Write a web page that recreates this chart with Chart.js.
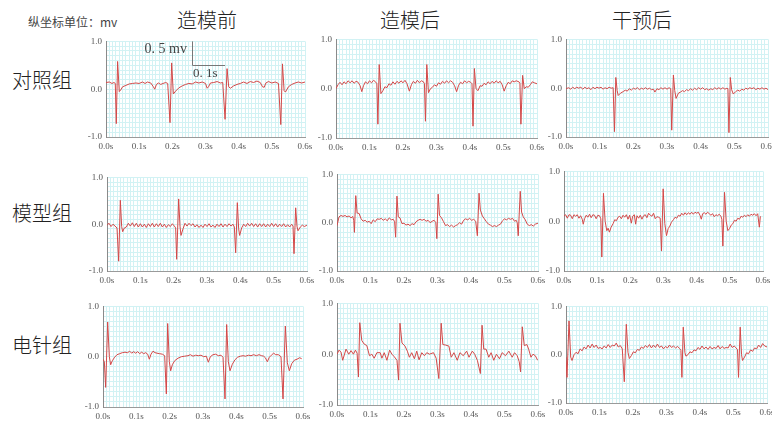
<!DOCTYPE html>
<html><head><meta charset="utf-8">
<script src="https://cdn.jsdelivr.net/npm/chart.js@4.4.1/dist/chart.umd.min.js"></script>
<style>
html,body{margin:0;padding:0;background:#fff;width:772px;height:423px;overflow:hidden;}
body{position:relative;}
.t{position:absolute;font-family:"Noto Sans CJK SC","Noto Sans",sans-serif;color:#333;white-space:nowrap;line-height:1;}
canvas{position:absolute;}
</style></head><body>
<script>
// ---------- texts ----------
const columnTitles = ['造模前', '造模后', '干预后'];
const rowLabels = ['对照组', '模型组', '电针组'];
const unitNote = '纵坐标单位：mv';
const yLabelValues = [-1, 0, 1];
const scaleBarV = '0. 5 mv';
const scaleBarH = '0. 1s';

// ---------- ECG traces: [time (s), voltage (mV)] ----------
const ctrlPre = [[0,0.14],[0.010,0.15],[0.018,0.12],[0.024,0.14],[0.028,0.12],[0.031,-0.72],[0.035,0.58],[0.040,-0.05],[0.044,-0.02],[0.050,0.05],[0.060,0.08],[0.070,0.11],[0.080,0.12],[0.090,0.13],[0.100,0.12],[0.110,0.15],[0.118,0.12],[0.125,0.15],[0.135,0.13],[0.142,0.06],[0.147,0.00],[0.152,0.10],[0.158,0.13],[0.165,0.10],[0.172,0.12],[0.180,0.14],[0.186,0.12],[0.193,-0.70],[0.198,0.55],[0.203,-0.10],[0.210,-0.04],[0.220,0.03],[0.230,0.07],[0.240,0.10],[0.250,0.12],[0.260,0.11],[0.270,0.15],[0.280,0.13],[0.290,0.15],[0.300,0.12],[0.305,0.02],[0.309,0.05],[0.315,0.13],[0.325,0.14],[0.335,0.16],[0.345,0.13],[0.352,0.14],[0.359,-0.63],[0.365,0.43],[0.370,0.05],[0.375,0.02],[0.385,0.07],[0.395,0.10],[0.405,0.12],[0.415,0.15],[0.425,0.12],[0.435,0.16],[0.445,0.14],[0.455,0.17],[0.465,0.14],[0.472,0.05],[0.477,0.04],[0.482,0.13],[0.490,0.16],[0.500,0.13],[0.510,0.15],[0.520,0.12],[0.527,-0.74],[0.532,0.53],[0.537,-0.03],[0.541,-0.06],[0.550,0.05],[0.560,0.10],[0.570,0.13],[0.580,0.15],[0.590,0.13],[0.600,0.15]];
const ctrlPost = [[0,0.00],[0.006,0.08],[0.012,0.13],[0.018,0.08],[0.024,0.14],[0.030,0.10],[0.036,0.16],[0.042,0.12],[0.048,0.16],[0.054,0.11],[0.060,0.15],[0.066,0.13],[0.072,0.06],[0.077,-0.06],[0.082,0.06],[0.088,0.14],[0.094,0.10],[0.100,0.16],[0.106,0.12],[0.112,0.17],[0.118,0.14],[0.122,0.10],[0.125,-0.72],[0.129,0.49],[0.134,-0.10],[0.140,-0.04],[0.146,0.04],[0.152,0.02],[0.158,0.10],[0.164,0.07],[0.170,0.14],[0.176,0.09],[0.182,0.15],[0.188,0.11],[0.194,0.16],[0.200,0.12],[0.206,0.17],[0.212,0.10],[0.219,-0.05],[0.225,0.08],[0.231,0.15],[0.237,0.11],[0.243,0.17],[0.249,0.12],[0.255,0.16],[0.261,0.14],[0.264,0.10],[0.267,-0.66],[0.271,0.49],[0.276,-0.08],[0.282,0.00],[0.288,0.03],[0.294,0.08],[0.300,0.05],[0.306,0.12],[0.312,0.09],[0.318,0.15],[0.324,0.11],[0.330,0.16],[0.336,0.12],[0.342,0.16],[0.348,0.13],[0.354,0.06],[0.360,-0.06],[0.366,0.07],[0.372,0.13],[0.378,0.10],[0.384,0.16],[0.390,0.12],[0.396,0.15],[0.402,0.13],[0.406,0.10],[0.409,-0.76],[0.413,0.41],[0.418,0.00],[0.424,-0.04],[0.430,0.06],[0.436,0.05],[0.442,0.11],[0.448,0.08],[0.454,0.14],[0.460,0.10],[0.466,0.15],[0.472,0.11],[0.478,0.16],[0.484,0.12],[0.490,0.15],[0.496,0.08],[0.502,-0.05],[0.508,0.06],[0.514,0.13],[0.520,0.10],[0.526,0.16],[0.532,0.14],[0.538,0.16],[0.546,0.14],[0.549,0.11],[0.552,-0.72],[0.557,0.27],[0.562,0.00],[0.568,0.04],[0.574,0.03],[0.580,0.08],[0.586,0.14],[0.592,0.12],[0.600,0.10]];
const ctrlTreat = [[0,-0.01],[0.008,0.01],[0.014,-0.02],[0.020,0.02],[0.026,-0.01],[0.032,0.02],[0.038,0.00],[0.044,0.02],[0.050,-0.02],[0.056,0.02],[0.062,-0.01],[0.068,0.01],[0.074,-0.03],[0.080,0.02],[0.086,-0.01],[0.092,0.02],[0.098,0.00],[0.104,0.02],[0.110,-0.02],[0.116,0.01],[0.122,-0.01],[0.128,0.02],[0.134,0.00],[0.140,0.01],[0.144,-0.89],[0.148,0.22],[0.152,-0.05],[0.155,-0.15],[0.162,-0.10],[0.170,-0.07],[0.176,-0.04],[0.182,-0.06],[0.188,-0.01],[0.194,-0.04],[0.200,0.00],[0.206,-0.02],[0.212,0.01],[0.218,-0.03],[0.224,0.00],[0.230,-0.02],[0.236,0.01],[0.242,-0.02],[0.248,0.00],[0.254,-0.03],[0.260,-0.02],[0.264,-0.08],[0.270,-0.01],[0.276,-0.03],[0.282,0.01],[0.288,-0.02],[0.294,0.01],[0.300,-0.02],[0.306,0.01],[0.311,-0.01],[0.314,-0.86],[0.319,0.27],[0.323,-0.05],[0.327,-0.21],[0.334,-0.10],[0.340,-0.08],[0.346,-0.05],[0.352,-0.07],[0.358,-0.03],[0.364,-0.05],[0.370,-0.01],[0.376,-0.04],[0.382,0.00],[0.388,-0.03],[0.394,0.01],[0.400,-0.02],[0.406,0.01],[0.412,-0.03],[0.418,-0.01],[0.424,-0.04],[0.430,-0.01],[0.436,-0.03],[0.442,0.01],[0.448,-0.02],[0.454,0.01],[0.460,-0.02],[0.466,0.01],[0.472,-0.02],[0.478,0.00],[0.481,-0.01],[0.484,-0.91],[0.488,0.22],[0.492,-0.03],[0.497,-0.12],[0.504,-0.07],[0.510,-0.04],[0.516,-0.06],[0.522,-0.02],[0.528,-0.04],[0.534,0.00],[0.540,-0.02],[0.546,0.01],[0.552,-0.01],[0.558,0.01],[0.564,-0.03],[0.570,0.00],[0.576,-0.02],[0.582,0.01],[0.588,-0.02],[0.594,0.00],[0.600,-0.03]];
const modelPre = [[0,-0.02],[0.006,0.02],[0.012,-0.05],[0.018,0.00],[0.024,-0.04],[0.030,-0.08],[0.035,-0.79],[0.040,0.51],[0.044,-0.05],[0.047,-0.16],[0.052,-0.08],[0.058,-0.06],[0.064,0.02],[0.070,-0.04],[0.076,0.03],[0.082,-0.05],[0.088,0.02],[0.094,-0.06],[0.100,0.01],[0.106,-0.06],[0.112,0.00],[0.118,-0.07],[0.124,0.01],[0.130,-0.05],[0.136,0.02],[0.142,-0.06],[0.148,0.01],[0.154,-0.05],[0.160,0.02],[0.166,-0.06],[0.172,0.00],[0.178,-0.07],[0.184,-0.01],[0.190,-0.05],[0.196,0.01],[0.202,-0.04],[0.206,-0.08],[0.209,-0.75],[0.215,0.54],[0.219,-0.05],[0.222,-0.24],[0.228,-0.10],[0.234,0.02],[0.240,-0.04],[0.246,0.02],[0.252,-0.03],[0.258,0.01],[0.264,-0.06],[0.270,-0.01],[0.276,-0.07],[0.282,-0.02],[0.288,-0.07],[0.294,0.00],[0.300,-0.05],[0.306,0.01],[0.312,-0.06],[0.318,-0.02],[0.324,-0.07],[0.330,0.00],[0.336,-0.05],[0.342,0.01],[0.348,-0.06],[0.354,0.00],[0.360,-0.05],[0.366,0.01],[0.372,-0.04],[0.378,0.00],[0.382,-0.06],[0.386,-0.61],[0.391,0.46],[0.395,-0.10],[0.398,-0.24],[0.404,-0.08],[0.410,0.00],[0.416,-0.05],[0.422,0.02],[0.428,-0.04],[0.434,0.02],[0.440,-0.05],[0.446,0.01],[0.452,-0.06],[0.458,0.01],[0.464,-0.05],[0.470,0.01],[0.476,-0.06],[0.482,0.00],[0.488,-0.05],[0.494,0.02],[0.500,-0.05],[0.506,0.01],[0.512,-0.06],[0.518,0.00],[0.524,-0.05],[0.530,0.01],[0.536,-0.06],[0.542,-0.01],[0.548,-0.06],[0.554,0.00],[0.558,-0.04],[0.561,-0.63],[0.566,0.35],[0.570,-0.05],[0.573,-0.14],[0.580,-0.06],[0.586,-0.02],[0.592,-0.05],[0.600,-0.02]];
const modelPost = [[0,-0.06],[0.006,0.12],[0.012,0.15],[0.018,0.13],[0.024,0.15],[0.030,0.12],[0.036,0.14],[0.042,0.10],[0.047,0.13],[0.050,0.05],[0.052,-0.20],[0.056,0.56],[0.060,0.20],[0.066,0.19],[0.072,0.08],[0.078,0.03],[0.084,0.05],[0.090,0.01],[0.096,0.03],[0.102,-0.02],[0.108,0.06],[0.114,0.02],[0.120,0.08],[0.126,0.07],[0.132,0.09],[0.138,0.05],[0.144,0.08],[0.150,0.04],[0.156,0.10],[0.162,0.06],[0.168,0.07],[0.172,0.02],[0.175,-0.30],[0.179,0.55],[0.183,0.12],[0.188,0.10],[0.194,-0.02],[0.200,-0.01],[0.206,-0.05],[0.212,-0.03],[0.218,-0.06],[0.224,-0.02],[0.230,-0.04],[0.236,0.02],[0.242,0.05],[0.248,0.07],[0.254,0.05],[0.260,0.07],[0.266,0.03],[0.272,0.05],[0.278,0.00],[0.284,0.03],[0.290,0.05],[0.295,0.00],[0.298,-0.33],[0.302,0.59],[0.306,0.15],[0.312,0.10],[0.318,0.02],[0.324,-0.06],[0.330,-0.04],[0.336,-0.08],[0.342,-0.05],[0.348,-0.09],[0.354,-0.06],[0.360,-0.04],[0.366,0.00],[0.372,-0.03],[0.378,0.05],[0.384,0.08],[0.390,0.06],[0.396,0.09],[0.402,0.05],[0.408,0.07],[0.414,0.03],[0.419,-0.27],[0.424,0.61],[0.428,0.26],[0.434,0.14],[0.440,0.08],[0.446,0.02],[0.452,-0.03],[0.458,-0.05],[0.464,-0.08],[0.470,-0.06],[0.476,-0.08],[0.482,-0.05],[0.488,-0.03],[0.494,0.04],[0.500,0.08],[0.506,0.06],[0.512,0.09],[0.518,0.07],[0.524,0.09],[0.530,0.03],[0.535,0.05],[0.538,0.00],[0.541,-0.27],[0.547,0.65],[0.551,0.22],[0.556,0.12],[0.562,0.06],[0.568,-0.03],[0.574,-0.06],[0.580,-0.04],[0.586,-0.07],[0.592,-0.03],[0.600,-0.01]];
const modelTreat = [[0,0.10],[0.005,0.13],[0.010,0.06],[0.015,0.13],[0.020,0.12],[0.025,0.05],[0.030,0.13],[0.035,0.10],[0.040,0.13],[0.045,0.06],[0.050,0.11],[0.055,0.04],[0.058,-0.06],[0.062,0.05],[0.067,0.12],[0.072,0.08],[0.077,0.14],[0.082,0.07],[0.087,0.13],[0.092,0.12],[0.097,0.05],[0.102,0.12],[0.107,0.11],[0.111,0.05],[0.114,-0.72],[0.119,0.56],[0.124,0.00],[0.129,-0.19],[0.133,-0.14],[0.137,-0.22],[0.142,-0.12],[0.148,-0.05],[0.153,0.03],[0.158,0.01],[0.163,0.08],[0.168,0.10],[0.173,0.05],[0.178,0.12],[0.183,0.08],[0.188,0.13],[0.193,0.04],[0.198,0.12],[0.203,-0.04],[0.207,0.10],[0.212,0.13],[0.216,-0.06],[0.220,0.11],[0.225,0.06],[0.230,0.12],[0.235,0.04],[0.240,0.11],[0.245,0.13],[0.250,0.07],[0.255,0.16],[0.260,0.12],[0.265,0.10],[0.270,0.16],[0.275,0.05],[0.280,0.09],[0.285,0.08],[0.290,0.06],[0.294,-0.60],[0.299,0.65],[0.304,-0.05],[0.309,-0.29],[0.314,-0.15],[0.319,-0.10],[0.324,-0.02],[0.330,0.03],[0.335,0.08],[0.340,0.06],[0.345,0.12],[0.350,0.10],[0.355,0.16],[0.360,0.12],[0.365,0.17],[0.370,0.13],[0.375,0.17],[0.380,0.14],[0.385,0.18],[0.390,0.14],[0.395,0.18],[0.400,0.16],[0.405,0.18],[0.410,0.12],[0.414,0.04],[0.418,0.15],[0.423,0.17],[0.428,0.14],[0.433,0.18],[0.438,0.15],[0.443,0.12],[0.448,0.15],[0.453,0.09],[0.458,0.13],[0.463,0.11],[0.468,0.14],[0.473,0.10],[0.476,0.04],[0.479,-0.50],[0.484,0.58],[0.489,0.00],[0.494,-0.19],[0.499,-0.15],[0.504,-0.08],[0.509,-0.05],[0.514,0.02],[0.519,0.00],[0.524,0.06],[0.529,0.04],[0.534,0.10],[0.539,0.08],[0.544,0.12],[0.549,0.09],[0.554,0.13],[0.559,0.10],[0.564,0.14],[0.569,0.12],[0.574,0.15],[0.579,0.11],[0.584,0.15],[0.589,-0.12],[0.592,0.10]];
const eaPre = [[0,-0.05],[0.004,-0.10],[0.008,-0.61],[0.014,0.69],[0.019,0.00],[0.023,-0.16],[0.028,-0.08],[0.035,-0.01],[0.042,0.04],[0.050,0.06],[0.058,0.08],[0.066,0.09],[0.074,0.08],[0.080,0.11],[0.086,0.07],[0.092,0.10],[0.098,0.07],[0.104,0.10],[0.110,0.06],[0.116,0.09],[0.122,0.06],[0.128,0.08],[0.134,0.05],[0.139,-0.05],[0.144,0.05],[0.150,0.11],[0.156,0.08],[0.162,0.07],[0.170,0.06],[0.178,0.05],[0.185,0.02],[0.190,-0.74],[0.194,0.66],[0.199,-0.10],[0.203,-0.28],[0.208,-0.16],[0.215,-0.08],[0.225,-0.03],[0.235,0.00],[0.245,0.01],[0.255,0.02],[0.262,0.04],[0.270,0.01],[0.278,0.03],[0.286,0.02],[0.294,0.03],[0.302,0.00],[0.310,0.01],[0.316,-0.11],[0.322,0.00],[0.330,0.04],[0.338,0.05],[0.346,0.02],[0.354,0.03],[0.360,-0.01],[0.366,-0.84],[0.371,0.64],[0.376,-0.10],[0.381,-0.28],[0.388,-0.15],[0.396,-0.06],[0.404,-0.01],[0.412,0.01],[0.420,0.02],[0.428,0.01],[0.436,0.03],[0.444,0.02],[0.452,0.04],[0.460,0.02],[0.468,0.04],[0.476,0.02],[0.482,0.01],[0.487,-0.02],[0.493,-0.10],[0.499,-0.01],[0.505,0.03],[0.512,0.07],[0.518,0.04],[0.526,0.04],[0.534,0.00],[0.540,-0.84],[0.547,0.61],[0.553,-0.12],[0.559,-0.28],[0.566,-0.14],[0.574,-0.07],[0.582,-0.05],[0.590,-0.02],[0.596,-0.04]];
const eaPost = [[0,0.00],[0.006,0.08],[0.012,0.04],[0.017,-0.12],[0.027,0.10],[0.035,0.00],[0.042,0.07],[0.049,0.00],[0.055,0.08],[0.060,0.02],[0.064,-0.45],[0.068,0.62],[0.074,0.27],[0.081,0.20],[0.089,0.17],[0.097,-0.03],[0.104,0.00],[0.111,-0.08],[0.119,0.03],[0.129,0.03],[0.134,-0.08],[0.141,0.03],[0.149,-0.12],[0.157,0.08],[0.164,0.00],[0.171,-0.05],[0.179,-0.12],[0.184,-0.51],[0.188,0.61],[0.194,0.22],[0.203,0.16],[0.210,0.06],[0.216,-0.06],[0.223,0.03],[0.231,-0.09],[0.238,0.06],[0.245,-0.11],[0.253,0.03],[0.261,-0.03],[0.268,0.03],[0.276,0.00],[0.288,0.03],[0.296,-0.08],[0.304,-0.48],[0.311,0.61],[0.316,0.19],[0.324,0.18],[0.334,0.16],[0.341,-0.06],[0.349,0.03],[0.359,-0.12],[0.367,0.03],[0.377,-0.03],[0.387,0.06],[0.394,-0.06],[0.404,0.06],[0.411,0.00],[0.419,-0.12],[0.428,-0.38],[0.433,0.57],[0.438,0.10],[0.445,0.10],[0.453,-0.06],[0.460,0.03],[0.468,-0.12],[0.476,0.00],[0.485,-0.09],[0.493,0.03],[0.503,-0.03],[0.513,0.06],[0.523,-0.06],[0.530,0.03],[0.538,-0.03],[0.544,-0.15],[0.548,-0.35],[0.553,0.54],[0.559,0.17],[0.567,0.19],[0.572,0.10],[0.579,-0.06],[0.585,0.00],[0.592,-0.03],[0.599,-0.12]];
const eaTreat = [[0,-0.05],[0.003,-0.47],[0.009,0.70],[0.014,-0.05],[0.018,-0.12],[0.024,0.00],[0.030,0.05],[0.036,0.02],[0.042,0.12],[0.048,0.08],[0.054,0.16],[0.060,0.12],[0.066,0.20],[0.072,0.14],[0.078,0.22],[0.084,0.15],[0.090,0.20],[0.096,0.13],[0.102,0.15],[0.108,0.12],[0.114,0.18],[0.120,0.14],[0.126,0.21],[0.132,0.15],[0.138,0.20],[0.144,0.18],[0.150,0.24],[0.156,0.16],[0.162,0.19],[0.168,0.12],[0.174,-0.56],[0.180,0.63],[0.185,0.05],[0.189,-0.08],[0.195,-0.02],[0.201,0.06],[0.207,0.04],[0.213,0.11],[0.219,0.09],[0.225,0.16],[0.231,0.13],[0.237,0.19],[0.243,0.15],[0.249,0.21],[0.255,0.14],[0.261,0.20],[0.267,0.15],[0.273,0.22],[0.279,0.15],[0.285,0.18],[0.291,0.12],[0.297,0.17],[0.303,0.14],[0.309,0.20],[0.315,0.15],[0.321,0.18],[0.327,0.14],[0.333,0.17],[0.339,0.13],[0.343,0.09],[0.346,-0.47],[0.350,0.57],[0.355,0.04],[0.358,-0.03],[0.364,0.00],[0.370,0.06],[0.376,0.04],[0.382,0.10],[0.388,0.08],[0.394,0.15],[0.400,0.11],[0.406,0.18],[0.412,0.12],[0.418,0.16],[0.424,0.11],[0.430,0.17],[0.436,0.12],[0.442,0.15],[0.448,0.13],[0.454,0.19],[0.460,0.12],[0.466,0.17],[0.472,0.13],[0.478,0.15],[0.484,0.14],[0.490,0.22],[0.496,0.15],[0.502,0.18],[0.508,0.14],[0.512,0.10],[0.515,-0.47],[0.520,0.57],[0.524,0.00],[0.527,-0.12],[0.533,-0.05],[0.539,0.04],[0.545,0.02],[0.551,0.10],[0.557,0.07],[0.563,0.14],[0.569,0.12],[0.575,0.20],[0.581,0.15],[0.587,0.23],[0.593,0.18],[0.600,0.16]];

const traces = [ctrlPre, ctrlPost, ctrlTreat, modelPre, modelPost, modelTreat, eaPre, eaPost, eaTreat];

// ---------- layout (page pixels): plot-area left, right, top, bottom ----------
const panelBoxes = [
  [106,305,40,137],[336,537,38,138],[566,768,38,137],
  [107,307,176,271],[337,538,173,271],[564,763,170,271],
  [103,303,305,407],[337,538,302,405],[566,767,305,403]
];
const colCenters = [207, 410, 642];
const rowCenters = [80, 213, 345];

function addText(txt, x, y, size, align) {
  const d = document.createElement('div');
  d.className = 't';
  d.textContent = txt;
  d.style.fontSize = size + 'px';
  d.style.top = (y - size / 2) + 'px';
  if (align === 'center') { d.style.left = x + 'px'; d.style.transform = 'translateX(-50%)'; }
  else d.style.left = x + 'px';
  document.body.appendChild(d);
  return d;
}
columnTitles.forEach((s, i) => { const d = addText(s, colCenters[i], 20, 20, 'center'); d.style.fontWeight = '300'; d.style.color = '#222'; });
rowLabels.forEach((s, i) => { const d = addText(s, 42, rowCenters[i], 20, 'center'); d.style.fontWeight = '300'; d.style.color = '#222'; });
const un = addText(unitNote, 28, 22, 12, 'left'); un.style.color = '#444';

const gridColor = '#d2f2f4';
const axisColor = '#9a9a9a';
const tickFont = { family: '"Liberation Serif","DejaVu Serif",serif', size: 9 };
const lineColor = '#d44848';

const scaleBarPlugin = {
  id: 'scaleBar',
  afterDatasetsDraw(chart) {
    const { ctx, scales: { x, y } } = chart;
    const t0 = 0.259, t1 = 0.359, vTop = 1.0, vBot = 0.5;
    const px0 = x.getPixelForValue(t0), px1 = x.getPixelForValue(t1);
    const pyT = y.getPixelForValue(vTop), pyB = y.getPixelForValue(vBot);
    ctx.save();
    ctx.strokeStyle = '#777';
    ctx.lineWidth = 1;
    ctx.beginPath();
    ctx.moveTo(Math.round(px0) + 0.5, pyT);
    ctx.lineTo(Math.round(px0) + 0.5, Math.round(pyB) + 0.5);
    ctx.lineTo(px1, Math.round(pyB) + 0.5);
    ctx.stroke();
    ctx.fillStyle = '#444';
    ctx.font = '14px "Liberation Serif","DejaVu Serif",serif';
    ctx.textAlign = 'right';
    ctx.textBaseline = 'middle';
    ctx.fillText(scaleBarV, px0 - 5, pyT + 8);
    ctx.font = '13px "Liberation Serif","DejaVu Serif",serif';
    ctx.textAlign = 'left';
    ctx.fillText(scaleBarH, px0 + 1, pyB + 8);
    ctx.restore();
  }
};

function isNear(v, arr) { return arr.some(a => Math.abs(v - a) < 1e-6); }

traces.forEach((tr, idx) => {
  const [x0, x1, yT, yB] = panelBoxes[idx];
  const padL = 30, padR = 14, padT = 8, padB = 18;
  const w = x1 - x0 + padL + padR, h = yB - yT + padT + padB;
  const c = document.createElement('canvas');
  c.width = w; c.height = h;
  c.style.left = (x0 - padL) + 'px'; c.style.top = (yT - padT) + 'px';
  c.style.width = w + 'px'; c.style.height = h + 'px';
  document.body.appendChild(c);
  new Chart(c, {
    type: 'line',
    data: { datasets: [{ data: tr.map(([t, v]) => ({ x: t, y: v })), borderColor: lineColor, borderWidth: 1, pointRadius: 0, tension: 0, fill: false }] },
    options: {
      responsive: false, animation: false, events: [],
      layout: { padding: { left: 0, right: padR, top: padT, bottom: 0 } },
      plugins: { legend: { display: false }, tooltip: { enabled: false } },
      scales: {
        x: {
          type: 'linear', min: 0, max: 0.6,
          afterFit: s => { s.height = padB; },
          grid: { color: gridColor, drawTicks: false },
          border: { color: axisColor },
          ticks: {
            stepSize: 0.01, autoSkip: false, maxRotation: 0, padding: 4, font: tickFont, color: '#555',
            callback: v => { const k = Math.round(v * 10); return Math.abs(v * 10 - k) < 1e-6 ? (k / 10).toFixed(1) + 's' : ''; }
          }
        },
        y: {
          type: 'linear', min: -1, max: 1,
          afterFit: s => { s.width = padL; },
          grid: { color: gridColor, drawTicks: false },
          border: { color: '#8a8a8a' },
          ticks: {
            stepSize: 0.1, autoSkip: false, padding: 4, font: tickFont, color: '#555',
            callback: v => isNear(v, yLabelValues) ? (Math.abs(v) < 1e-6 ? 0 : v).toFixed(1) : ''
          }
        }
      }
    },
    plugins: idx === 0 ? [scaleBarPlugin] : []
  });
});
</script>
</body></html>
